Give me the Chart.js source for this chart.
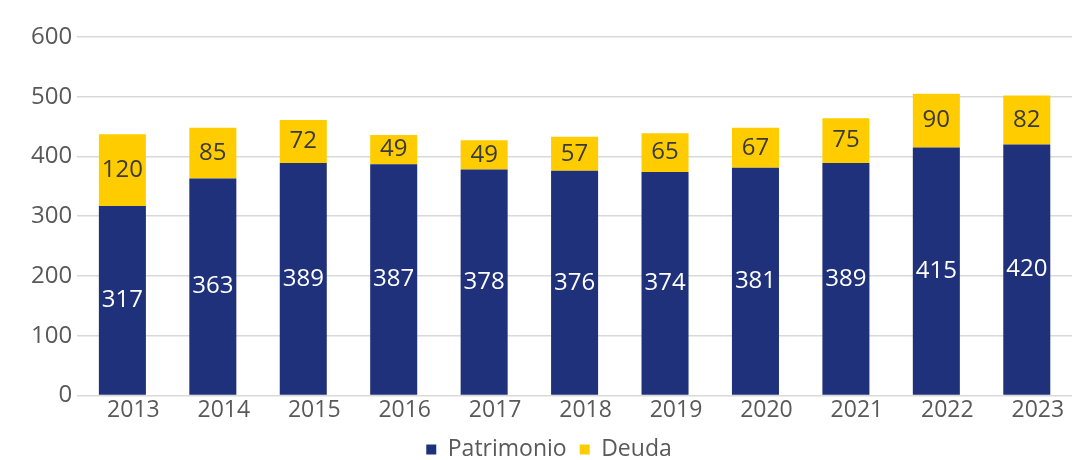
<!DOCTYPE html>
<html>
<head>
<meta charset="utf-8">
<script src="https://cdn.jsdelivr.net/npm/chart.js@4/dist/chart.umd.min.js"></script>
<style>
html,body{margin:0;padding:0;background:#fff;}
#wrap{width:1076px;height:460px;position:relative;}
</style>
</head>
<body>
<div id="wrap"><canvas id="c" width="1076" height="460"></canvas></div>
<script>
const categories = ['2013','2014','2015','2016','2017','2018','2019','2020','2021','2022','2023'];
const patrimonio = [317,363,389,387,378,376,374,381,389,415,420];
const deuda = [120,85,72,49,49,57,65,67,75,90,82];
const yTicks = [0,100,200,300,400,500,600];

const FONT = "'Open Sans', 'Noto Sans', sans-serif";

const labelPlugin = {
  id: 'barLabels',
  afterDatasetsDraw(chart) {
    const ctx = chart.ctx;
    ctx.save();
    ctx.font = '24px ' + FONT;
    ctx.textAlign = 'center';
    ctx.textBaseline = 'middle';
    chart.data.datasets.forEach((ds, di) => {
      const meta = chart.getDatasetMeta(di);
      meta.data.forEach((el, i) => {
        const p = el.getCenterPoint();
        ctx.fillStyle = ds.labelColor;
        ctx.fillText(String(ds.data[i]), p.x, p.y);
      });
    });
    ctx.restore();
  }
};

new Chart(document.getElementById('c'), {
  type: 'bar',
  data: {
    labels: categories,
    datasets: [
      {label: 'Patrimonio', data: patrimonio, backgroundColor: '#1F317B', labelColor: '#ffffff',
       barPercentage: 0.52, categoryPercentage: 1},
      {label: 'Deuda', data: deuda, backgroundColor: '#FFCC00', labelColor: '#3a3a3a',
       barPercentage: 0.52, categoryPercentage: 1}
    ]
  },
  options: {
    responsive: false,
    animation: false,
    layout: {padding: {left: 26, right: 4, top: 37, bottom: -11}},
    plugins: {
      legend: {
        position: 'bottom',
        labels: {
          font: {family: FONT, size: 23},
          color: '#595959',
          boxWidth: 10, boxHeight: 10, padding: 13
        }
      },
      tooltip: {enabled: false}
    },
    scales: {
      x: {
        stacked: true,
        grid: {display: false, drawTicks: false},
        border: {display: false},
        ticks: {font: {family: FONT, size: 23}, color: '#595959', padding: 1, labelOffset: 11}
      },
      y: {
        stacked: true,
        min: 0, max: 600,
        afterBuildTicks(axis) { axis.ticks = yTicks.map(v => ({value: v})); },
        grid: {color: '#d9d9d9', lineWidth: 1.5, drawTicks: false},
        border: {display: false},
        ticks: {font: {family: FONT, size: 24}, color: '#595959', padding: 5}
      }
    }
  },
  plugins: [labelPlugin]
});
</script>
</body>
</html>
